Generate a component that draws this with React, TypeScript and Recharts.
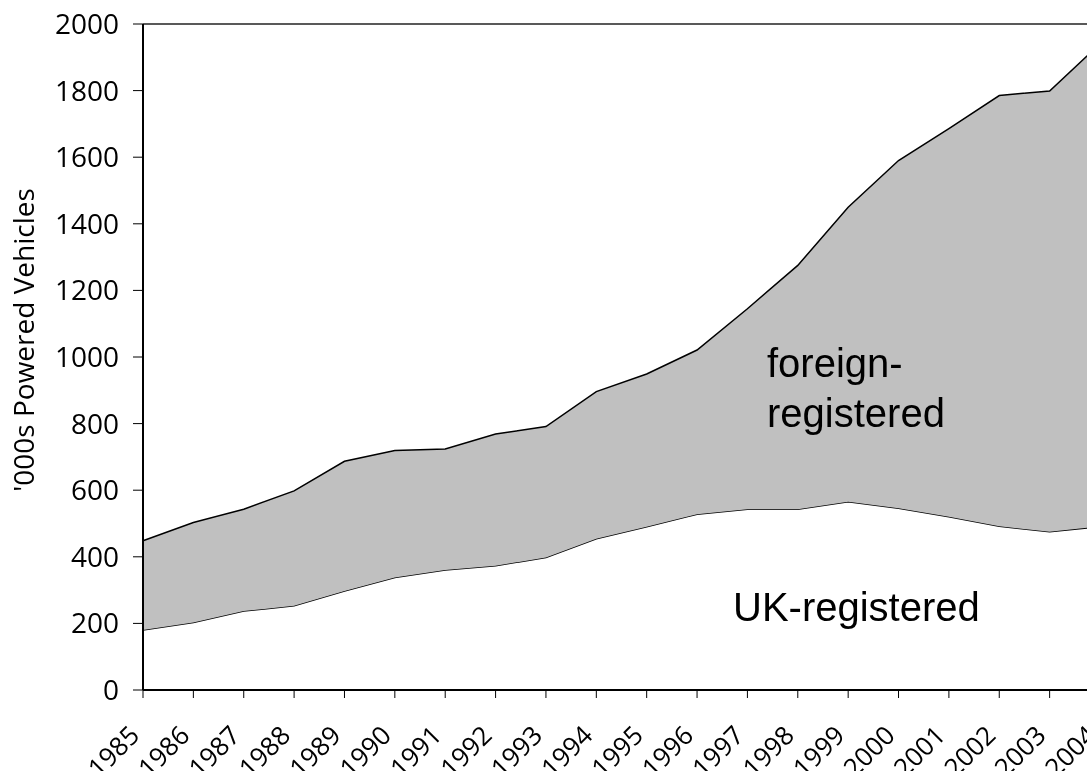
import React from 'react';
import { AreaChart, Area, XAxis, YAxis, ReferenceLine } from 'recharts';

// vehicles in thousands
const years = [1985, 1986, 1987, 1988, 1989, 1990, 1991, 1992, 1993, 1994, 1995, 1996, 1997, 1998, 1999, 2000, 2001, 2002, 2003, 2004];
const ukRegistered = [180, 203, 237, 253, 297, 338, 360, 373, 398, 454, 490, 528, 543, 543, 565, 546, 520, 492, 475, 491];
const allVehicles = [448, 503, 543, 598, 687, 719, 724, 769, 791, 896, 949, 1021, 1145, 1275, 1450, 1590, 1686, 1785, 1799, 1940];
const yTicks = [0, 200, 400, 600, 800, 1000, 1200, 1400, 1600, 1800, 2000];

const data = years.map((year, i) => ({
  year,
  uk: ukRegistered[i],
  foreign: allVehicles[i] - ukRegistered[i],
}));

const tickFont = '"Open Sans", sans-serif';
const noteFont = '"Liberation Sans", Arial, sans-serif';

const YearTick = (props: any) => {
  const { x, y, payload } = props;
  const ax = x - 2;
  const ay = y + 37;
  return (
    <text
      x={ax}
      y={ay}
      transform={`rotate(-45, ${ax}, ${ay})`}
      textAnchor="end"
      fontSize={26}
      fontFamily={tickFont}
      fill="#000"
    >
      {payload.value}
    </text>
  );
};

export default function App() {
  return (
    <div style={{ position: 'fixed', left: 8, top: 8, width: 1079, height: 763, overflow: 'hidden' }}>
      <AreaChart
        width={1120}
        height={763}
        data={data}
        margin={{ top: 16, right: 28, bottom: 0, left: 0 }}
      >
        <XAxis
          type="number"
          dataKey="year"
          domain={[1985, 2004]}
          ticks={years}
          interval={0}
          height={81}
          tickSize={8}
          axisLine={{ stroke: '#000', strokeWidth: 2 }}
          tickLine={{ stroke: '#000', strokeWidth: 1 }}
          tick={<YearTick />}
        />
        <YAxis
          type="number"
          domain={[0, 2000]}
          ticks={yTicks}
          interval={0}
          width={135}
          tickSize={10}
          tickMargin={14}
          axisLine={{ stroke: '#000', strokeWidth: 2 }}
          tickLine={{ stroke: '#000', strokeWidth: 1 }}
          tick={{ fontSize: 28, fill: '#000', fontFamily: tickFont }}
        />
        <ReferenceLine y={2000} stroke="#222" strokeWidth={1.5} />
        <Area
          type="linear"
          dataKey="uk"
          stackId="1"
          stroke="#000"
          strokeWidth={1.5}
          fill="none"
          isAnimationActive={false}
          dot={false}
          activeDot={false}
        />
        <Area
          type="linear"
          dataKey="foreign"
          stackId="1"
          stroke="#000"
          strokeWidth={1.5}
          fill="#c0c0c0"
          fillOpacity={1}
          isAnimationActive={false}
          dot={false}
          activeDot={false}
        />
        <text
          x={26}
          y={332}
          transform="rotate(-90, 26, 332)"
          textAnchor="middle"
          fontSize={28}
          fontFamily={tickFont}
          fill="#000"
        >
          '000s Powered Vehicles
        </text>
      </AreaChart>
      {/* notes sit on top of the filled area */}
      <svg
        width={1079}
        height={763}
        style={{ position: 'absolute', left: 0, top: 0, pointerEvents: 'none' }}
      >
        <text x={759} y={369} fontSize={40} fontFamily={noteFont} fill="#000">
          foreign-
        </text>
        <text x={759} y={419} fontSize={40} fontFamily={noteFont} fill="#000">
          registered
        </text>
        <text x={725} y={613} fontSize={40} fontFamily={noteFont} fill="#000">
          UK-registered
        </text>
      </svg>
    </div>
  );
}
